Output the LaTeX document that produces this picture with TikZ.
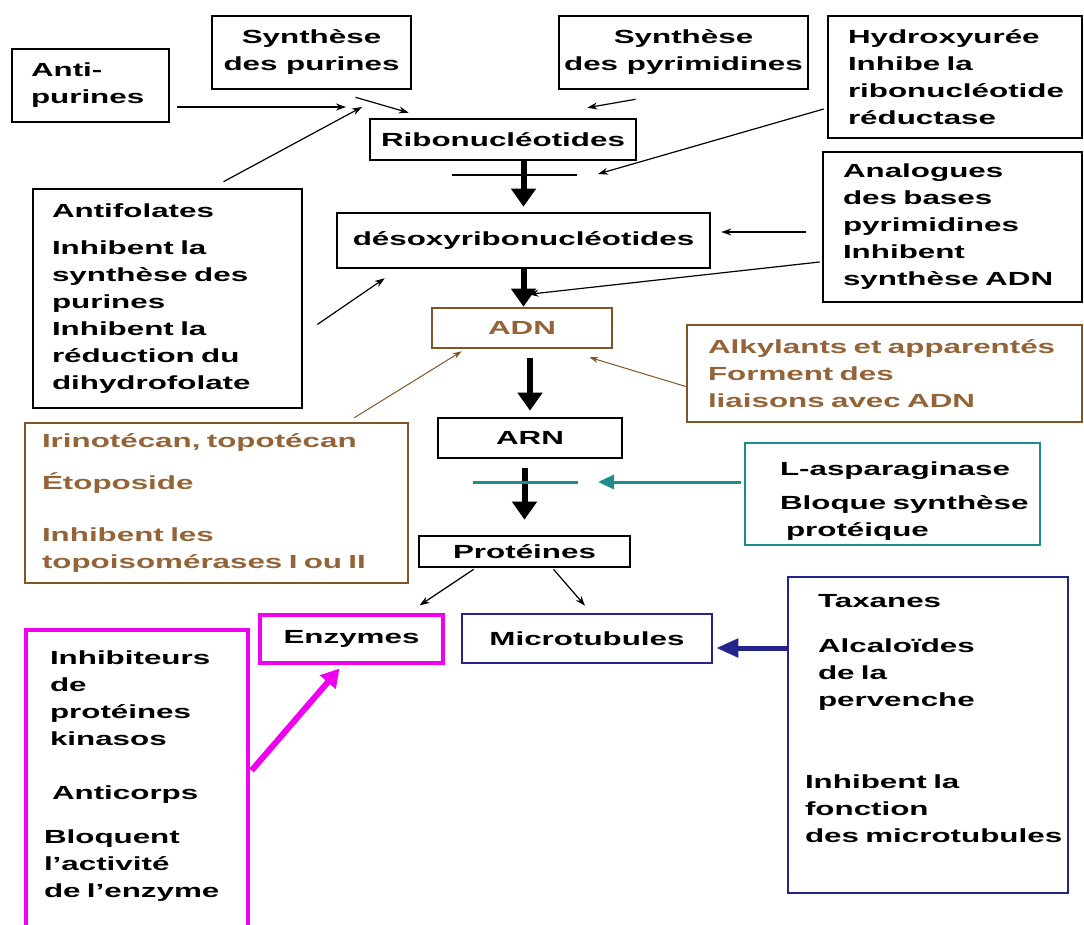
\documentclass[tikz,border=0pt]{standalone}
\usepackage{fontspec}
\setmainfont{Liberation Sans}[FakeStretch=1.65]
\usepackage{xcolor}
\usetikzlibrary{arrows.meta}
\definecolor{chartbrown}{RGB}{130,84,40}
\definecolor{chartbrowntext}{RGB}{148,100,56}
\definecolor{chartteal}{RGB}{30,140,140}
\definecolor{chartmagenta}{RGB}{240,0,240}
\definecolor{chartnavy}{RGB}{36,36,140}
\hyphenpenalty=10000
\exhyphenpenalty=10000
\tikzset{
    chart/.style={font=\fontsize{19}{27}\selectfont\bfseries},
    chart box/.style={draw, line width=2.6pt, inner sep=0pt, align=center},
    chart flow/.style={-{Triangle[width=24pt,length=18pt]}, line width=6pt},
    chart arrow/.style={-{Stealth[length=10pt,width=7pt]}, line width=1.2pt},
    chart bar/.style={line width=1.2pt},
}

\begin{document}
\begin{tikzpicture}[
        chart, x=1pt, y=-1pt,
        notebox/.style={chart box, align=left},
        brownbox/.style={chart box, draw=chartbrown, text=chartbrowntext},
        brown arrow/.style={-{Stealth[length=9pt,width=6pt]}, line width=1pt, color=chartbrown},
        teal arrow/.style={-{Triangle[width=14pt,length=16pt]}, line width=3pt, color=chartteal},
        magenta flow/.style={-{Triangle[width=20pt,length=18pt]}, line width=6pt, color=chartmagenta},
        navy flow/.style={-{Triangle[width=18pt,length=22pt]}, line width=5pt, color=chartnavy}
    ]
        \useasboundingbox (0,0) rectangle (1084,925);
        \clip (0,0) rectangle (1084,925);

        % top row
        \node[notebox, minimum width=157pt, minimum height=73pt, inner xsep=19pt,
            text width=119pt] (antipur) at (90.5,85.5) {Anti-\\purines};
        \node[chart box, minimum width=199pt, minimum height=73pt] (synpur)
            at (311.5,52.5) {Synthèse\\des purines};
        \node[chart box, minimum width=249pt, minimum height=73pt] (synpyr)
            at (683.5,52.5) {Synthèse\\des pyrimidines};
        \node[notebox, minimum width=254pt, minimum height=122pt, inner xsep=20pt,
            text width=214pt] (hydroxy) at (955,77)
            {Hydroxyurée\\Inhibe la\\ribonucléotide\\réductase};

        % main chain
        \node[chart box, minimum width=266pt, minimum height=41pt] (ribo)
            at (503,139.5) {Ribonucléotides};
        \node[chart box, minimum width=373pt, minimum height=55pt] (desoxy)
            at (523.5,240.5) {désoxyribonucléotides};
        \node[brownbox, minimum width=180pt, minimum height=40pt] (adn)
            at (522,328) {ADN};
        \node[chart box, minimum width=184pt, minimum height=40pt] (arn)
            at (530,438) {ARN};
        \node[chart box, minimum width=211pt, minimum height=31pt] (prot)
            at (524.5,551.5) {Protéines};
        \node[chart box, draw=chartmagenta, line width=3.2pt, minimum width=183pt,
            minimum height=48pt] (enz) at (351.5,639) {Enzymes};
        \node[chart box, draw=chartnavy, minimum width=250pt, minimum height=49pt]
            (micro) at (587,638.5) {Microtubules};

        % drug boxes
        \node[notebox, minimum width=259pt, minimum height=150pt, inner xsep=20pt,
            text width=219pt] (analog) at (952.5,227)
            {Analogues\\des bases\\pyrimidines\\Inhibent\\synthèse ADN};
        \node[notebox, minimum width=269pt, minimum height=219pt, inner xsep=19pt,
            text width=231pt] (antifol) at (167.5,298.5)
            {Antifolates\\[10pt]Inhibent la\\synthèse des\\purines\\Inhibent la\\
             réduction du\\dihydrofolate};
        \node[brownbox, align=left, minimum width=395pt, minimum height=97pt,
            inner xsep=21pt, text width=353pt] (alkyl) at (884.5,373.5)
            {Alkylants et apparentés\\Forment des\\liaisons avec ADN};
        \node[brownbox, align=left, minimum width=383pt, minimum height=160pt,
            inner xsep=17pt, text width=349pt] (irino) at (216.5,503)
            {Irinotécan, topotécan\\[15pt]Étoposide\\[25pt]Inhibent les\\
             topoisomérases I ou II};
        \node[notebox, draw=chartteal, line width=2.2pt, minimum width=295pt,
            minimum height=102pt, inner xsep=35pt, text width=225pt] (aspar)
            at (892.5,494)
            {\mbox{}\\L-asparaginase\\[7pt]Bloque~synthèse\\\hspace*{6pt}protéique};
        \node[notebox, draw=chartmagenta, line width=3.2pt, minimum width=222pt,
            minimum height=305pt, inner xsep=18pt, text width=186pt] (kinase)
            at (137,782.5)
            {\hspace*{6pt}Inhibiteurs\\\hspace*{6pt}de\\\hspace*{6pt}protéines\\
             \hspace*{6pt}kinasos\\[27pt]\hspace*{8pt}Anticorps\\[17pt]Bloquent\\
             l'activité\\de~l'enzyme\\[-10pt]\mbox{}};
        \node[notebox, draw=chartnavy, minimum width=280pt, minimum height=316pt,
            inner xsep=17pt, text width=246pt] (taxane) at (928,735)
            {\hspace*{13pt}Taxanes\\[18pt]\hspace*{13pt}Alcaloïdes\\
             \hspace*{13pt}de~la\\\hspace*{13pt}pervenche\\[55pt]Inhibent~la\\
             fonction\\des~microtubules\\[7pt]\mbox{}};

        % free ends of the thin arrows
        \coordinate (purjoin) at (346,107);
        \coordinate (purjoin2) at (362,107);
        \coordinate (ribobar west) at (452,175);
        \coordinate (ribobar east) at (577,175);
        \coordinate (hydroxytip) at (598,174);
        \coordinate (protbar west) at (473,482);
        \coordinate (protbar east) at (578,482);
        \coordinate (asparagtip) at (598,482);

        % flow of the chain
        \draw[chart flow, shorten >=5pt] (ribo.south -| desoxy.north) -- (desoxy.north);
        \draw[chart flow] (desoxy.south) -- (desoxy.south |- adn.north);
        \draw[chart flow, shorten <=9pt, shorten >=6pt] (adn.south -| arn.north) -- (arn.north);
        \draw[chart flow, shorten <=9pt, shorten >=15pt] (arn.south -| prot.north) -- (prot.north);

        % inhibition bars
        \draw[chart bar] (ribobar west) -- (ribobar east);
        \draw[chart bar, chartteal, line width=3pt] (protbar west) -- (protbar east);

        % thin arrows
        \draw[chart arrow] ([shift={(7,21.5)}]antipur.east) -- (purjoin);
        \draw[chart arrow] ([shift={(56,-6)}]antifol.north) -- (purjoin2);
        \draw[chart arrow] ([shift={(44,7)}]synpur.south) -- ([shift={(40,-5)}]ribo.north west);
        \draw[chart arrow] ([shift={(-48,9)}]synpyr.south) -- ([shift={(-50,-10)}]ribo.north east);
        \draw[chart arrow] ([shift={(-3,32)}]hydroxy.west) -- (hydroxytip);
        \draw[chart arrow] ([shift={(-16,5)}]analog.west) -- ([shift={(10,-8.5)}]desoxy.east);
        \draw[chart arrow] ([shift={(-2,35)}]analog.west) -- ([shift={(5,25)}]desoxy.south);
        \draw[chart arrow] ([shift={(14,26)}]antifol.east) -- ([shift={(49,9)}]desoxy.south west);
        \draw[brown arrow] ([shift={(-55,-4)}]irino.north east) -- ([shift={(31,2)}]adn.south west);
        \draw[brown arrow] ([shift={(0,13)}]alkyl.west) -- ([shift={(-24,8)}]adn.south east);
        \draw[teal arrow] ([shift={(-3,-12)}]aspar.west) -- (asparagtip);
        \draw[chart arrow] ([shift={(56,1)}]prot.south west) -- ([shift={(-25,-8)}]enz.north east);
        \draw[chart arrow] ([shift={(29,1)}]prot.south) -- ([shift={(-2,-7)}]micro.north);

        % thick coloured arrows
        \draw[magenta flow] ([shift={(2,-12)}]kinase.east) -- ([shift={(-12,4)}]enz.south);
        \draw[navy flow] ([shift={(0,-87)}]taxane.west) -- ([shift={(3,9.5)}]micro.east);
    \end{tikzpicture}
\end{document}
